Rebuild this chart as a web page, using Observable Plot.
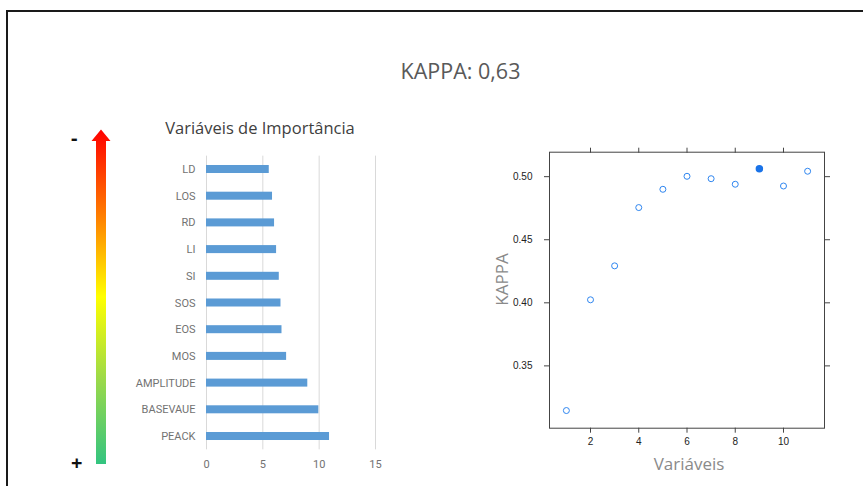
<!DOCTYPE html>
<html>
<head>
<meta charset="utf-8">
<script src="https://cdn.jsdelivr.net/npm/d3@7"></script>
<script src="https://cdn.jsdelivr.net/npm/@observablehq/plot@0.6"></script>
<style>
  html, body { margin: 0; padding: 0; background: #fff; }
  #wrap { position: relative; width: 863px; height: 486px; overflow: hidden; background: #fff; font-family: "Open Sans", sans-serif; }
  .abs { position: absolute; }
  #border { left: 6px; top: 10px; width: 1000px; height: 1000px; border: 2px solid #1a1a1a; box-sizing: border-box; }
  #title { left: 0; width: 921px; top: 56px; text-align: center; font-size: 21.5px; color: #595959; }
  #btitle { left: 120px; width: 280px; top: 116px; text-align: center; font-size: 16.5px; color: #404040; }
  #ylab { left: 470px; top: 268px; width: 62px; text-align: center; font-size: 17px; color: #8a8a8a; transform: rotate(-90deg); }
  #xlab { left: 620px; top: 452px; width: 138px; text-align: center; font-size: 17px; color: #8a8a8a; }
  #minus { left: 71px; top: 124px; font-size: 20px; font-weight: bold; color: #111; }
  #plus { left: 71px; top: 449px; font-size: 20px; font-weight: bold; color: #111; }
</style>
</head>
<body>
<div id="wrap">
  <div id="border" class="abs"></div>
  <div id="title" class="abs">KAPPA: 0,63</div>
  <div id="btitle" class="abs">Variáveis de Importância</div>
  <svg class="abs" style="left:0;top:0" width="200" height="486">
    <defs>
      <linearGradient id="grad" x1="0" y1="0" x2="0" y2="1">
        <stop offset="0" stop-color="#ff0000"/>
        <stop offset="0.25" stop-color="#ff7a00"/>
        <stop offset="0.5" stop-color="#ffff00"/>
        <stop offset="0.75" stop-color="#9ad94a"/>
        <stop offset="1" stop-color="#33c480"/>
      </linearGradient>
    </defs>
    <polygon points="91.5,141 101,129.5 110.5,141 106,141 106,464 96,464 96,141" fill="url(#grad)"/>
  </svg>
  <div id="minus" class="abs">-</div>
  <div id="plus" class="abs">+</div>
  <div id="bars" class="abs" style="left:120px;top:150px"></div>
  <div id="scatter" class="abs" style="left:480px;top:130px"></div>
  <div id="ylab" class="abs">KAPPA</div>
  <div id="xlab" class="abs">Variáveis</div>
</div>
<script>
// Variable importance (bar chart)
const barVars = ["LD", "LOS", "RD", "LI", "SI", "SOS", "EOS", "MOS", "AMPLITUDE", "BASEVAUE", "PEACK"];
const barImp = [5.57, 5.86, 6.04, 6.22, 6.46, 6.61, 6.70, 7.11, 8.99, 9.97, 10.92];
const barTicks = [0, 5, 10, 15];

// Kappa vs number of variables (scatter)
const nVars = [1, 2, 3, 4, 5, 6, 7, 8, 9, 10, 11];
const kappaVals = [0.3146, 0.4024, 0.4293, 0.4755, 0.4900, 0.5003, 0.4984, 0.4940, 0.5063, 0.4926, 0.5043];
const bestN = 9;
const scXTicks = [2, 4, 6, 8, 10];
const scYTicks = [0.35, 0.40, 0.45, 0.50];

const bars = barVars.map((v, i) => ({ v, imp: barImp[i] }));
const pts = nVars.map((n, i) => ({ n, k: kappaVals[i] }));

const barPlot = Plot.plot({
  width: 280, height: 330,
  marginLeft: 86, marginRight: 25, marginTop: 5.65, marginBottom: 30.65,
  style: { fontFamily: "Roboto, sans-serif", fontSize: "11px", color: "#727272", background: "transparent", overflow: "visible" },
  x: { domain: [0, 15] },
  y: { domain: barVars, paddingInner: 0.7, paddingOuter: 0.35, round: false },
  marks: [
    Plot.gridX(barTicks, { stroke: "#d9d9d9", strokeOpacity: 1 }),
    Plot.barX(bars, { x: "imp", y: "v", fill: "#5b9bd5" }),
    Plot.axisX(barTicks, { tickSize: 0, tickPadding: 10, label: null }),
    Plot.axisY({ tickSize: 0, tickPadding: 11, label: null })
  ]
});
document.getElementById("bars").appendChild(barPlot);

const scPlot = Plot.plot({
  width: 360, height: 356,
  marginLeft: 69, marginRight: 16, marginTop: 21.7, marginBottom: 58.3,
  style: { fontFamily: "Liberation Sans, sans-serif", fontSize: "10px", color: "#222", background: "transparent", overflow: "visible" },
  x: { domain: [0.3, 11.7] },
  y: { domain: [0.3006, 0.5194] },
  marks: [
    Plot.frame({ stroke: "#444", strokeWidth: 1 }),
    Plot.dot(pts, { x: "n", y: "k", r: 3, stroke: "#2f86f0", strokeWidth: 1, fill: "none", filter: d => d.n !== bestN }),
    Plot.dot(pts, { x: "n", y: "k", r: 3, stroke: "#1a73e8", fill: "#1a73e8", filter: d => d.n === bestN }),
    Plot.axisX(scXTicks, { anchor: "bottom", tickSize: 5, tickPadding: 5, label: null, stroke: "#444" }),
    Plot.axisX(scXTicks, { anchor: "top", tickSize: 5, tickFormat: () => "", label: null, stroke: "#444" }),
    Plot.axisY(scYTicks, { anchor: "left", tickSize: 5, tickPadding: 12, tickFormat: d3.format(".2f"), label: null, stroke: "#444" }),
    Plot.axisY(scYTicks, { anchor: "right", tickSize: 5, tickFormat: () => "", label: null, stroke: "#444" })
  ]
});
document.getElementById("scatter").appendChild(scPlot);
</script>
</body>
</html>
